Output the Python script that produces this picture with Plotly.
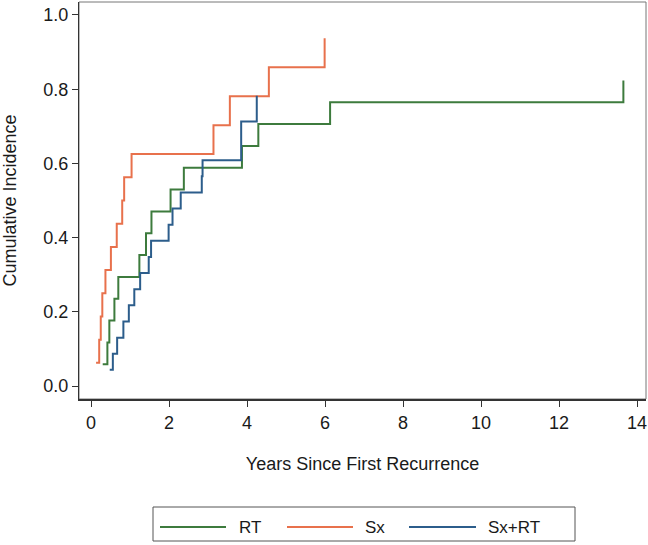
import plotly.graph_objects as go

# Data
rt_years = [0.30, 0.42, 0.47, 0.60, 0.70, 1.24, 1.41, 1.55, 2.04, 2.38, 3.87, 4.29, 6.13, 13.65]
rt_ci = [0.0588, 0.1176, 0.1765, 0.2353, 0.2941, 0.3529, 0.4118, 0.4706, 0.5294, 0.5882,
         0.6471, 0.7059, 0.7647, 0.8235]

sx_years = [0.13, 0.21, 0.25, 0.29, 0.37, 0.51, 0.66, 0.80, 0.85, 1.04, 3.14, 3.56, 4.56, 5.99]
sx_ci = [0.0625, 0.125, 0.1875, 0.25, 0.3125, 0.375, 0.4375, 0.5, 0.5625, 0.625,
         0.703, 0.781, 0.859, 0.9375]

sxrt_years = [0.48, 0.56, 0.67, 0.83, 0.97, 1.11, 1.26, 1.48, 1.54, 1.99, 2.09, 2.30,
              2.84, 2.86, 3.85, 4.25]
sxrt_ci = [0.0435, 0.087, 0.1304, 0.1739, 0.2174, 0.2609, 0.3043, 0.3478, 0.3913, 0.4348,
           0.4783, 0.5217, 0.5652, 0.6087, 0.713, 0.782]

series_names = ["RT", "Sx", "Sx+RT"]
series_colors = ["#3D7B3D", "#E8714C", "#2C5D8B"]

x_ticks = [0, 2, 4, 6, 8, 10, 12, 14]
y_ticks = [0.0, 0.2, 0.4, 0.6, 0.8, 1.0]

FONT = "Liberation Sans, Arial, sans-serif"
TXT = "#1a1a1a"

W, H = 648, 545
ML, MR, MT, MB = 79, 2, 2, 146
PW, PH = W - ML - MR, H - MT - MB


def px_x(x):
    # page pixel -> paper fraction
    return (x - ML) / PW


def px_y(y):
    return (H - MB - y) / PH


fig = go.Figure()
for name, xs, ys, col in zip(series_names,
                             [rt_years, sx_years, sxrt_years],
                             [rt_ci, sx_ci, sxrt_ci],
                             series_colors):
    fig.add_trace(go.Scatter(x=xs, y=ys, mode="lines", name=name,
                             line=dict(color=col, width=2, shape="hv"),
                             showlegend=False))

# Legend drawn as a Stata-style boxed key row below the plot
shapes = [dict(type="rect", xref="paper", yref="paper", x0=0, x1=1, y0=0, y1=1,
               line=dict(color="#777777", width=1), layer="below"),
          dict(type="rect", xref="paper", yref="paper",
               x0=px_x(153), x1=px_x(575), y0=px_y(541), y1=px_y(507),
               line=dict(color="#555555", width=1), fillcolor="white")]
annotations = []
key_line_x = [(160, 226), (287, 353), (409, 476)]
key_text_x = [237, 363, 486]
key_y = 527
for name, col, (a, b), tx in zip(series_names, series_colors, key_line_x, key_text_x):
    shapes.append(dict(type="line", xref="paper", yref="paper",
                       x0=px_x(a), x1=px_x(b), y0=px_y(key_y), y1=px_y(key_y),
                       line=dict(color=col, width=2)))
    annotations.append(dict(text=name, xref="paper", yref="paper", x=px_x(tx), y=px_y(key_y),
                            xanchor="left", yanchor="middle", showarrow=False,
                            font=dict(family=FONT, size=17, color=TXT)))

fig.update_layout(
    width=W, height=H,
    margin=dict(l=ML, r=MR, t=MT, b=MB),
    paper_bgcolor="white", plot_bgcolor="white",
    font=dict(family=FONT, size=17, color=TXT),
    showlegend=False,
    xaxis=dict(range=[-0.308, 14.23], tickvals=x_ticks, ticktext=[str(v) for v in x_ticks],
               automargin=False, ticklabeloverflow="allow",
               showgrid=False, zeroline=False, showline=True, linecolor="#333333", linewidth=2,
               ticks="outside", ticklen=6, tickcolor="#333333", tickwidth=1,
               tickfont=dict(size=18),
               title=dict(text="Years Since First Recurrence", font=dict(size=18), standoff=26)),
    yaxis=dict(range=[-0.035, 1.035], tickvals=y_ticks, ticktext=[f"{v:.1f}" for v in y_ticks],
               automargin=False, ticklabeloverflow="allow",
               showgrid=False, zeroline=False, showline=True, linecolor="#333333", linewidth=1,
               ticks="outside", ticklen=6, tickcolor="#333333", tickwidth=1,
               tickfont=dict(size=18),
               title=dict(text="Cumulative Incidence", font=dict(size=18), standoff=22)),
    shapes=shapes,
    annotations=annotations,
)

# Remove the browser's default 8px body margin so the 648x545 figure fills the window exactly
fig.write_html("out.html",
               config={"displayModeBar": False},
               post_script="document.documentElement.style.overflow='hidden';"
                           "document.body.style.margin='0';"
                           "document.body.style.overflow='hidden';")
